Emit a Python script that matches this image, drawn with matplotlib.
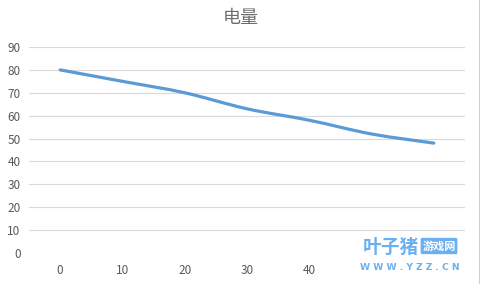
import numpy as np
import matplotlib
matplotlib.use("Agg")
import matplotlib.pyplot as plt
from matplotlib.path import Path
from matplotlib.patches import PathPatch

plt.rcParams['font.family'] = ['Noto Sans CJK SC', 'DejaVu Sans']

# données
categories = ['0', '10', '20', '30', '40', '50', '60']
valeurs = [80, 75, 70, 63, 58, 52, 48]
titre = '电量'

fig = plt.figure(figsize=(4.81, 2.84), dpi=100)
ax = fig.add_axes([29 / 481, 1 - 253 / 284, 436 / 481, 206 / 284])

x = np.arange(len(categories))
y = np.array(valeurs, dtype=float)

# courbe lissée (style Excel) : Bezier construite à partir des points
verts = [(x[0], y[0])]
codes = [Path.MOVETO]
for i in range(len(x) - 1):
    x0, y0 = (x[i - 1], y[i - 1]) if i > 0 else (x[i], y[i])
    x3, y3 = (x[i + 2], y[i + 2]) if i + 2 < len(x) else (x[i + 1], y[i + 1])
    c1 = (x[i] + (x[i + 1] - x0) / 6, y[i] + (y[i + 1] - y0) / 6)
    c2 = (x[i + 1] - (x3 - x[i]) / 6, y[i + 1] - (y3 - y[i]) / 6)
    verts += [c1, c2, (x[i + 1], y[i + 1])]
    codes += [Path.CURVE4] * 3
ax.add_patch(PathPatch(Path(verts, codes), facecolor='none', edgecolor='#5B9BD5',
                       lw=2.3, capstyle='round', joinstyle='round', zorder=3))

ax.set_xlim(-0.5, len(x) - 0.5)
ax.set_ylim(0, 90)
ax.set_yticks(range(0, 91, 10))
ax.set_xticks(x)
ax.set_xticklabels(categories)
ax.grid(axis='y', color='#D9D9D9', lw=0.8)
ax.set_axisbelow(True)
for s in ax.spines.values():
    s.set_visible(False)
ax.tick_params(length=0, labelsize=8.5, labelcolor='#595959')
ax.tick_params(axis='y', pad=6)
ax.tick_params(axis='x', pad=8)
# 50 et 60 sont cachés par le filigrane
for lab in ax.get_xticklabels()[5:]:
    lab.set_visible(False)

fig.text(0.5, 1 - 18 / 284, titre, ha='center', va='center', fontsize=13,
         color='#6E6E6E', fontweight='light')

# bord droit de la feuille
fig.add_artist(plt.Line2D([479 / 481, 479 / 481], [0, 1], color='#D0D0D0', lw=0.8))

# filigrane
fig.patches.append(plt.Rectangle((352 / 481, 0), 114 / 481, 40 / 284, transform=fig.transFigure,
                                 facecolor='white', edgecolor='none', zorder=5))
fig.text(391 / 481, 1 - 247 / 284, '叶子猪', ha='center', va='center', fontsize=13.5,
         fontweight='heavy', color='#6AB0F0', zorder=6)
fig.text(439 / 481, 1 - 246 / 284, '游戏网', ha='center', va='center', fontsize=8,
         fontweight='bold', color='white', zorder=6,
         bbox=dict(boxstyle='round,pad=0.15', facecolor='#6AB0F0', edgecolor='none'))
fig.text(410 / 481, 1 - 268 / 284, 'W W W . Y Z Z . C N', ha='center', va='center', fontsize=6.6,
         fontweight='bold', color='#6AB0F0', zorder=6, family='DejaVu Sans')

fig.savefig('out.png', dpi=100)
